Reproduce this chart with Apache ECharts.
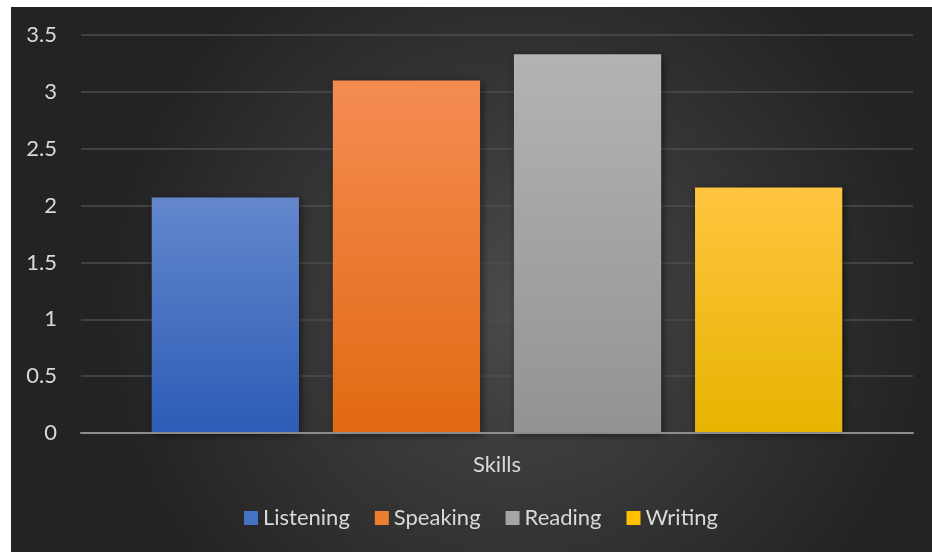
<!DOCTYPE html>
<html>
<head>
<meta charset="utf-8">
<script src="https://cdn.jsdelivr.net/npm/echarts@6/dist/echarts.min.js"></script>
<style>
  html, body { margin: 0; padding: 0; background: #ffffff; width: 932px; height: 552px; overflow: hidden; }
  #chart { position: absolute; left: 11px; top: 7px; width: 921px; height: 545px; }
</style>
</head>
<body>
<div id="chart"></div>
<script>
const categories = ['Skills'];
const seriesNames = ['Listening', 'Speaking', 'Reading', 'Writing'];
const seriesValues = [2.07, 3.1, 3.33, 2.16];
const yTicks = { min: 0, max: 3.5, interval: 0.5 };
const topColors = ['#6487cc', '#f48c52', '#b3b3b3', '#ffc540'];
const bottomColors = ['#2c5cb6', '#e26912', '#939393', '#e6b400'];
const legendColors = ['#4472c4', '#ed7d31', '#a5a5a5', '#ffc000'];

const FONT = 'Lato, "Open Sans", sans-serif';
const chart = echarts.init(document.getElementById('chart'), null, { renderer: 'canvas' });

const series = seriesNames.map((name, i) => ({
  name: name,
  type: 'bar',
  data: [seriesValues[i]],
  barGap: '23%',
  barCategoryGap: '17%',
  itemStyle: {
    color: {
      type: 'linear', x: 0, y: 0, x2: 0, y2: 1,
      colorStops: [
        { offset: 0, color: topColors[i] },
        { offset: 1, color: bottomColors[i] }
      ]
    },
    shadowBlur: 8,
    shadowColor: 'rgba(0,0,0,0.55)',
    shadowOffsetX: 2,
    shadowOffsetY: 2
  },
  emphasis: { disabled: true }
}));

chart.setOption({
  animation: false,
  backgroundColor: {
    type: 'radial', x: 0.55, y: 0.55, r: 0.75,
    colorStops: [
      { offset: 0, color: '#4a4a4a' },
      { offset: 1, color: '#232323' }
    ]
  },
  color: legendColors,
  textStyle: { fontFamily: FONT },
  grid: { left: 70, right: 19, top: 28, bottom: 119, containLabel: false },
  legend: {
    bottom: 18,
    left: 228,
    icon: 'rect',
    itemWidth: 14,
    itemHeight: 14,
    itemGap: 25,
    textStyle: { color: '#d9d9d9', fontSize: 22, fontFamily: FONT },
    data: seriesNames.map((n, i) => ({ name: n, itemStyle: { color: legendColors[i] } }))
  },
  xAxis: {
    type: 'category',
    data: categories,
    axisLine: { lineStyle: { color: '#8c8c8c', width: 2 } },
    axisTick: { show: false },
    axisLabel: { color: '#d9d9d9', fontSize: 22, margin: 21, fontFamily: FONT },
    z: 5
  },
  yAxis: {
    type: 'value',
    min: yTicks.min, max: yTicks.max, interval: yTicks.interval,
    axisLine: { show: false },
    axisTick: { show: false },
    axisLabel: { color: '#d9d9d9', fontSize: 22, margin: 24, fontFamily: FONT },
    splitLine: { lineStyle: { color: '#4e4e4e', width: 1.5 } }
  },
  series: series
});
</script>
</body>
</html>
